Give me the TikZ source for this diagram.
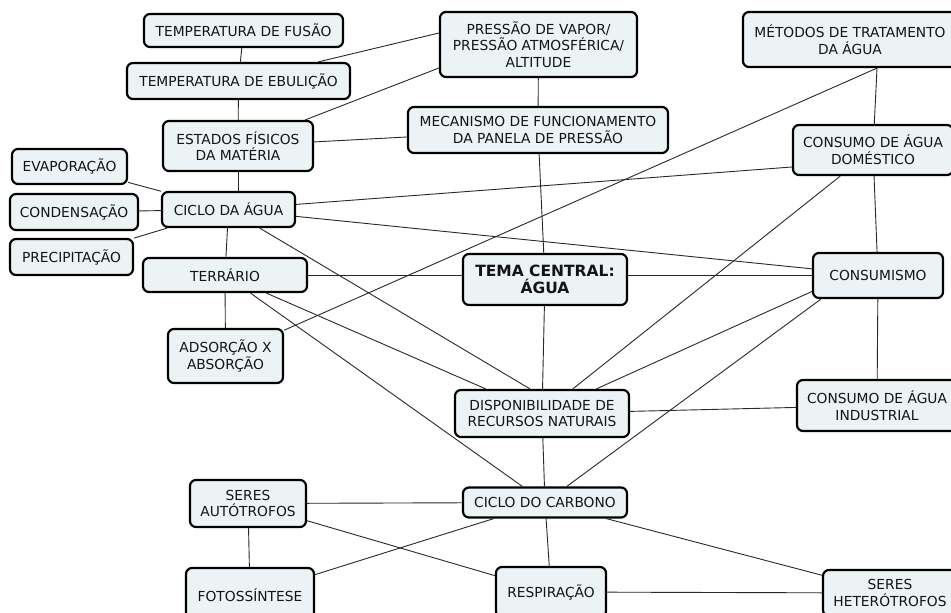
\documentclass[tikz,border=0pt]{standalone}
\usepackage{fontspec}
\setmainfont{DejaVu Sans}
\definecolor{caixa}{RGB}{236,243,245}
\definecolor{texto}{RGB}{20,20,20}
\definecolor{linha}{RGB}{40,40,40}
\begin{document}
\begin{tikzpicture}[x=1pt,y=-1pt,
  conceito/.style={draw=black, line width=2.2pt, rounded corners=6pt, fill=caixa, text=texto,
    align=center, inner sep=1pt, font=\fontsize{13.8}{16.7}\selectfont},
  ligacao/.style={draw=linha, line width=0.9pt}]
\useasboundingbox (0,0) rectangle (951,613);

\node[conceito, minimum width=199, minimum height=33] (fusao) at (243.5,30.5) {TEMPERATURA DE FUSÃO};
\node[conceito, minimum width=223, minimum height=36] (ebulicao) at (238.5,81) {TEMPERATURA DE EBULIÇÃO};
\node[conceito, minimum width=150, minimum height=50] (estados) at (238,146) {ESTADOS FÍSICOS\\DA MATÉRIA};
\node[conceito, minimum width=115, minimum height=35] (evaporacao) at (69.5,166.5) {EVAPORAÇÃO};
\node[conceito, minimum width=128, minimum height=36] (condensacao) at (74,212) {CONDENSAÇÃO};
\node[conceito, minimum width=123, minimum height=36] (precipitacao) at (71.5,257) {PRECIPITAÇÃO};
\node[conceito, minimum width=133, minimum height=35] (cicloagua) at (228.5,209.5) {CICLO DA ÁGUA};
\node[conceito, minimum width=164, minimum height=34] (terrario) at (225,275) {TERRÁRIO};
\node[conceito, minimum width=197, minimum height=65] (pressao) at (538.5,44.5) {PRESSÃO DE VAPOR/\\PRESSÃO ATMOSFÉRICA/\\ALTITUDE};
\node[conceito, minimum width=260, minimum height=46] (mecanismo) at (538,130) {MECANISMO DE FUNCIONAMENTO\\DA PANELA DE PRESSÃO};
\node[conceito, minimum width=214, minimum height=55] (metodos) at (850,39.5) {MÉTODOS DE TRATAMENTO\\DA ÁGUA};
\node[conceito, minimum width=160, minimum height=50] (domestico) at (873,150) {CONSUMO DE ÁGUA\\DOMÉSTICO};
\node[conceito, minimum width=164, minimum height=51, font=\fontsize{15.5}{17.5}\selectfont\bfseries] (tema) at (545,279.5) {TEMA CENTRAL:\\ÁGUA};
\node[conceito, minimum width=130, minimum height=45] (consumismo) at (878,275.5) {CONSUMISMO};
\node[conceito, minimum width=115, minimum height=54] (adsorcao) at (225.5,356) {ADSORÇÃO X\\ABSORÇÃO};
\node[conceito, minimum width=174, minimum height=47] (disponibilidade) at (542,413.5) {DISPONIBILIDADE DE\\RECURSOS NATURAIS};
\node[conceito, minimum width=160, minimum height=51] (industrial) at (877,405.5) {CONSUMO DE ÁGUA\\INDUSTRIAL};
\node[conceito, minimum width=164, minimum height=30] (carbono) at (545,502.5) {CICLO DO CARBONO};
\node[conceito, minimum width=116, minimum height=47] (autotrofos) at (248,503.5) {SERES\\AUTÓTROFOS};
\node[conceito, minimum width=128, minimum height=54] (fotossintese) at (250,595) {FOTOSSÍNTESE};
\node[conceito, minimum width=110, minimum height=50] (respiracao) at (551,592) {RESPIRAÇÃO};
\node[conceito, minimum width=134, minimum height=46] (heterotrofos) at (890,593) {SERES\\HETERÓTROFOS};

\path[ligacao] (fusao) -- (ebulicao);
\path[ligacao] (ebulicao) -- (estados);
\path[ligacao] ([yshift=11.5pt]pressao.west) -- (ebulicao);
\path[ligacao] ([yshift=-23.5pt]pressao.west) -- (estados);
\path[ligacao] (pressao) -- (mecanismo);
\path[ligacao] (estados) -- (mecanismo);
\path[ligacao] (estados) -- (estados |- cicloagua.north);
\path[ligacao] (evaporacao) -- (cicloagua);
\path[ligacao] (condensacao) -- (cicloagua);
\path[ligacao] (precipitacao) -- (cicloagua);
\path[ligacao] (cicloagua) -- (terrario);
\path[ligacao] (cicloagua) -- ([yshift=-17pt]domestico.west);
\path[ligacao] (cicloagua) -- (consumismo);
\path[ligacao] (cicloagua) -- ([xshift=-12pt]disponibilidade.north);
\path[ligacao] (terrario) -- (adsorcao);
\path[ligacao] (terrario) -- (terrario -| tema.west);
\path[ligacao] (terrario) -- (disponibilidade);
\path[ligacao] (terrario) -- (carbono);
\path[ligacao] ([xshift=27pt]metodos.south) -- (adsorcao);
\path[ligacao] ([xshift=27pt]metodos.south) -- (domestico);
\path[ligacao] (domestico) -- (consumismo);
\path[ligacao] (domestico) -- (disponibilidade);
\path[ligacao] ([yshift=-16pt]consumismo.west) -- (disponibilidade);
\path[ligacao] ([xshift=9pt]consumismo.south west) -- (carbono);
\path[ligacao] (consumismo) -- (industrial);
\path[ligacao] (consumismo) -- (consumismo -| tema.east);
\path[ligacao] (tema) -- (mecanismo);
\path[ligacao] (tema) -- (disponibilidade);
\path[ligacao] (disponibilidade) -- (industrial);
\path[ligacao] (disponibilidade) -- (carbono);
\path[ligacao] (carbono) -- (autotrofos);
\path[ligacao] (carbono) -- (fotossintese);
\path[ligacao] (carbono) -- (respiracao);
\path[ligacao] (carbono) -- (heterotrofos);
\path[ligacao] (autotrofos) -- (respiracao);
\path[ligacao] (autotrofos) -- (fotossintese);
\path[ligacao] (respiracao) -- (heterotrofos);
\end{tikzpicture}
\end{document}
